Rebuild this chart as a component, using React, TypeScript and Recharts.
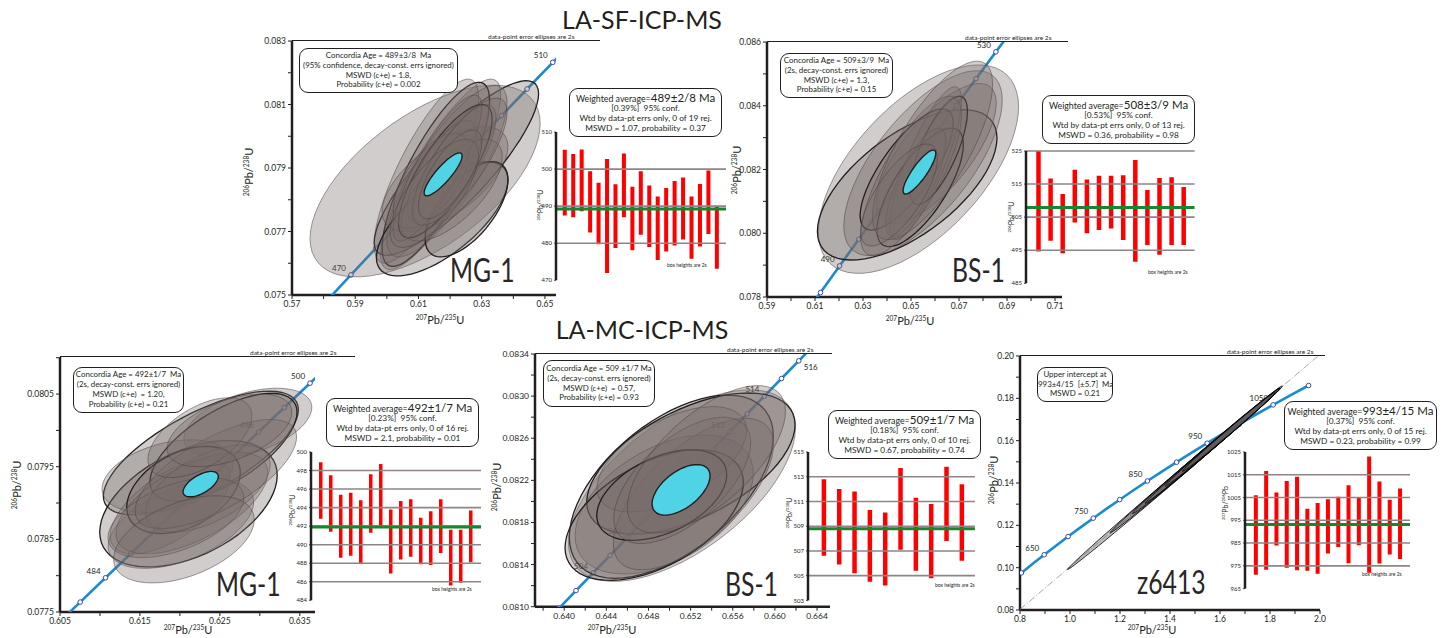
import React from 'react';
import { ScatterChart, Scatter, XAxis, YAxis, BarChart, Bar, ReferenceLine } from 'recharts';

const FONT = "Lato, 'Open Sans', 'DejaVu Sans', sans-serif";
const INK = '#231f20';
const L238 = 1.55125e-10;
const L235 = 9.8485e-10;

// concordia ages (Ma): curve nodes, open-circle markers, labelled markers
const mgSfCurve = [460, 465, 470, 475, 480, 485, 490, 495, 500, 505, 510, 515, 520];
const mgSfMarks = [465, 470, 475, 480, 485, 490, 495, 500, 505, 510, 515];
const mgSfLabels = [470, 510];

const bsSfCurve = [475, 480, 485, 490, 495, 500, 505, 510, 515, 520, 525, 530, 535, 540];
const bsSfMarks = [485, 490, 495, 500, 505, 510, 515, 520, 525, 530];
const bsSfLabels = [490, 530];

const mgMcCurve = [478, 480, 482, 484, 486, 488, 490, 492, 494, 496, 498, 500, 502, 504, 506];
const mgMcMarks = [480, 482, 484, 486, 488, 490, 492, 494, 496, 498, 500, 502, 504];
const mgMcLabels = [484, 488, 496, 500];

const bsMcCurve = [500, 501, 502, 503, 504, 505, 506, 507, 508, 509, 510, 511, 512, 513, 514, 515, 516, 517, 518, 519];
const bsMcMarks = [502, 503, 504, 505, 506, 507, 508, 509, 510, 511, 512, 513, 514, 515, 516, 517];
const bsMcLabels = [504, 506, 510, 512, 514];
const bsMcLabelsRight = [516];

const zCurve = [600, 625, 650, 675, 700, 725, 750, 775, 800, 825, 850, 875, 900, 925, 950, 975, 1000, 1025, 1050, 1075, 1100];
const zMarks = [600, 650, 700, 750, 800, 850, 900, 950, 1000, 1050, 1100];
const zLabels = [650, 750, 850, 950, 1050];
const zUpperAge = 993;
const zDiscordiaX = [0.8, 2.0];

// error ellipses: 207/235 (x), 206/238 (y), 2s half-widths, error correlation
const mgSfEllipses = [
  { x: 0.6121, y: 0.07859, sx: 0.0364, sy: 0.00302, rho: 0.6 },
  { x: 0.622, y: 0.079, sx: 0.026, sy: 0.00275, rho: 0.85 },
  { x: 0.617, y: 0.0788, sx: 0.019, sy: 0.003, rho: 0.84 },
  { x: 0.6155, y: 0.0788, sx: 0.017, sy: 0.0029, rho: 0.8 },
  { x: 0.6125, y: 0.0789, sx: 0.0165, sy: 0.0029, rho: 0.8 },
  { x: 0.619, y: 0.0789, sx: 0.019, sy: 0.0027, rho: 0.8 },
  { x: 0.6175, y: 0.0774, sx: 0.0208, sy: 0.0018, rho: 0.68 },
  { x: 0.6184, y: 0.07865, sx: 0.0199, sy: 0.00165, rho: 0.62 },
  { x: 0.6252, y: 0.0777, sx: 0.0131, sy: 0.0015, rho: 0.62 },
  { x: 0.6185, y: 0.0789, sx: 0.0148, sy: 0.0021, rho: 0.78 },
  { x: 0.6175, y: 0.0789, sx: 0.011, sy: 0.0016, rho: 0.72 },
  { x: 0.6215, y: 0.0791, sx: 0.013, sy: 0.0019, rho: 0.78 },
  { x: 0.614, y: 0.0786, sx: 0.012, sy: 0.0015, rho: 0.62 },
  { x: 0.6205, y: 0.0783, sx: 0.016, sy: 0.0016, rho: 0.66 },
  { x: 0.616, y: 0.079, sx: 0.014, sy: 0.0023, rho: 0.84 },
  { x: 0.623, y: 0.0792, sx: 0.015, sy: 0.002, rho: 0.78 },
  { x: 0.615, y: 0.0782, sx: 0.014, sy: 0.0017, rho: 0.72 },
  { x: 0.62, y: 0.0788, sx: 0.01, sy: 0.0014, rho: 0.72 },
];
const mgSfMean = { x: 0.6178, y: 0.0788, sx: 0.006, sy: 0.000675, rho: 0.86 };

const bsSfEllipses = [
  { x: 0.6531, y: 0.08201, sx: 0.0417, sy: 0.00327, rho: 0.6 },
  { x: 0.6484, y: 0.08152, sx: 0.0374, sy: 0.00236, rho: 0.62 },
  { x: 0.655, y: 0.0822, sx: 0.033, sy: 0.0029, rho: 0.68 },
  { x: 0.6605, y: 0.0825, sx: 0.025, sy: 0.0022, rho: 0.72 },
  { x: 0.6482, y: 0.082, sx: 0.0194, sy: 0.0019, rho: 0.76 },
  { x: 0.6538, y: 0.08144, sx: 0.018, sy: 0.00186, rho: 0.72 },
  { x: 0.6615, y: 0.0826, sx: 0.012, sy: 0.0017, rho: 0.72 },
  { x: 0.656, y: 0.0822, sx: 0.015, sy: 0.0024, rho: 0.82 },
  { x: 0.652, y: 0.0816, sx: 0.0125, sy: 0.0017, rho: 0.76 },
  { x: 0.65, y: 0.0818, sx: 0.021, sy: 0.0025, rho: 0.76 },
  { x: 0.659, y: 0.0826, sx: 0.025, sy: 0.0028, rho: 0.74 },
  { x: 0.645, y: 0.0812, sx: 0.016, sy: 0.0016, rho: 0.72 },
];
const bsSfMean = { x: 0.6535, y: 0.08192, sx: 0.0068, sy: 0.00069, rho: 0.85 };

const mgMcEllipses = [
  { x: 0.62262, y: 0.07969, sx: 0.0122, sy: 0.00085, rho: 0.7 },
  { x: 0.62107, y: 0.07899, sx: 0.0111, sy: 0.00087, rho: 0.45 },
  { x: 0.6285, y: 0.0801, sx: 0.008, sy: 0.00048, rho: 0.45 },
  { x: 0.62012, y: 0.07871, sx: 0.0091, sy: 0.00061, rho: 0.5 },
  { x: 0.61846, y: 0.07937, sx: 0.0082, sy: 0.0005, rho: 0.35 },
  { x: 0.62545, y: 0.07977, sx: 0.0092, sy: 0.00074, rho: 0.65 },
  { x: 0.61877, y: 0.07895, sx: 0.0075, sy: 0.00065, rho: 0.62 },
  { x: 0.62045, y: 0.07918, sx: 0.0071, sy: 0.0006, rho: 0.4 },
  { x: 0.6215, y: 0.079, sx: 0.0095, sy: 0.0007, rho: 0.6 },
  { x: 0.6235, y: 0.0792, sx: 0.0078, sy: 0.0006, rho: 0.55 },
  { x: 0.6195, y: 0.0788, sx: 0.0085, sy: 0.00055, rho: 0.5 },
  { x: 0.6245, y: 0.0794, sx: 0.0101, sy: 0.00075, rho: 0.68 },
  { x: 0.6225, y: 0.0799, sx: 0.0065, sy: 0.00055, rho: 0.55 },
  { x: 0.6205, y: 0.0785, sx: 0.0088, sy: 0.0006, rho: 0.45 },
  { x: 0.6262, y: 0.08, sx: 0.0078, sy: 0.0005, rho: 0.5 },
];
const mgMcMean = { x: 0.6226, y: 0.07926, sx: 0.0022, sy: 0.000175, rho: 0.6 };

const bsMcEllipses = [
  { x: 0.65118, y: 0.08215, sx: 0.01077, sy: 0.00091, rho: 0.6 },
  { x: 0.65017, y: 0.08214, sx: 0.00968, sy: 0.00087, rho: 0.55 },
  { x: 0.65203, y: 0.08236, sx: 0.00989, sy: 0.00067, rho: 0.55 },
  { x: 0.64949, y: 0.08197, sx: 0.00846, sy: 0.00066, rho: 0.45 },
  { x: 0.64854, y: 0.08187, sx: 0.00846, sy: 0.00062, rho: 0.5 },
  { x: 0.65226, y: 0.08207, sx: 0.0076, sy: 0.00072, rho: 0.65 },
  { x: 0.65021, y: 0.0824, sx: 0.0071, sy: 0.0005, rho: 0.55 },
  { x: 0.64926, y: 0.08206, sx: 0.00617, sy: 0.00043, rho: 0.45 },
  { x: 0.6512, y: 0.0822, sx: 0.0065, sy: 0.0006, rho: 0.6 },
  { x: 0.6535, y: 0.0824, sx: 0.0075, sy: 0.0007, rho: 0.65 },
];
const bsMcMean = { x: 0.65109, y: 0.08211, sx: 0.00275, sy: 0.00024, rho: 0.55 };

const zEllipses = [
  { x: 1.415, y: 0.142, sx: 0.425, sy: 0.0429, rho: 0.999 },
  { x: 1.5, y: 0.1506, sx: 0.34, sy: 0.0342, rho: 0.9985 },
  { x: 1.55, y: 0.1557, sx: 0.3, sy: 0.0302, rho: 0.998 },
  { x: 1.56, y: 0.1566, sx: 0.26, sy: 0.0262, rho: 0.998 },
  { x: 1.6, y: 0.1606, sx: 0.22, sy: 0.0221, rho: 0.997 },
  { x: 1.645, y: 0.1652, sx: 0.195, sy: 0.0197, rho: 0.997 },
];

// weighted-average boxes: 2s low / high ages (Ma)
const mgSfLow = [487.5, 487.0, 488.6, 482.9, 479.7, 472.0, 478.7, 487.0, 478.1, 482.3, 479.0, 475.5, 477.8, 479.4, 481.0, 475.8, 479.1, 482.5, 473.1];
const mgSfHigh = [505.2, 504.1, 505.3, 499.4, 496.3, 502.7, 495.9, 504.2, 495.2, 499.4, 495.6, 492.6, 494.9, 496.8, 497.7, 492.6, 496.0, 499.6, 490.1];
const bsSfLow = [494.6, 497.9, 494.1, 503.4, 500.1, 501.1, 501.6, 498.1, 491.5, 496.6, 493.6, 496.6, 496.6];
const bsSfHigh = [525.0, 516.7, 512.0, 519.3, 516.4, 517.5, 517.5, 517.7, 522.3, 513.2, 516.8, 517.1, 514.1];
const mgMcLow = [492.8, 491.4, 488.6, 488.8, 488.0, 491.3, 492.0, 486.9, 488.4, 488.7, 487.9, 487.8, 489.1, 485.6, 485.9, 488.1];
const mgMcHigh = [498.9, 497.5, 495.4, 495.6, 494.8, 497.6, 498.7, 493.8, 494.7, 494.9, 492.9, 493.6, 494.9, 491.6, 491.6, 493.7];
const bsMcLow = [506.6, 505.9, 505.2, 504.5, 504.2, 507.1, 505.4, 504.8, 507.8, 506.2];
const bsMcHigh = [512.8, 512.0, 511.8, 510.3, 510.1, 513.7, 511.3, 510.8, 513.8, 512.4];
const zLow = [971.1, 973.3, 983.9, 974.2, 973.1, 972.8, 971.5, 980.4, 983.3, 976.1, 984.0, 972.0, 976.0, 980.0, 978.0];
const zHigh = [1006.0, 1016.7, 1007.2, 1012.3, 1014.1, 1000.1, 1002.6, 1004.2, 1005.3, 1010.4, 1005.0, 1023.0, 1012.0, 1004.0, 1009.0];

type Ell = { x: number; y: number; sx: number; sy: number; rho: number };

const concordia = (age: number) => ({
  x: Math.exp(L235 * age * 1e6) - 1,
  y: Math.exp(L238 * age * 1e6) - 1,
});

function ellipsePts(e: Ell, n = 64) {
  const k = Math.sqrt(1 - e.rho * e.rho);
  const out = [];
  for (let i = 0; i <= n; i++) {
    const t = (i / n) * Math.PI * 2;
    out.push({ x: e.x + e.sx * Math.cos(t), y: e.y + e.sy * (e.rho * Math.cos(t) + k * Math.sin(t)) });
  }
  return out;
}

const pathOf = (pts: any[], close: boolean) =>
  pts.map((p, i) => (i ? 'L' : 'M') + p.x.toFixed(1) + ',' + p.y.toFixed(1)).join(' ') + (close ? ' Z' : '');

const shapeLine = (style: any, close: boolean) => (props: any) =>
  props.points ? <path d={pathOf(props.points, close)} {...style} /> : <g />;

const noDot = () => <g />;

const markerShape = (labels: number[], labelsRight: number[]) => (p: any) => {
  const age = p.payload.age;
  const left = labels.includes(age);
  const right = labelsRight.includes(age);
  return (
    <g>
      <circle cx={p.cx} cy={p.cy} r={2.3} fill="#fff" stroke="#3a4ba6" strokeWidth={1} />
      {(left || right) && (
        <text
          x={left ? p.cx - 5 : p.cx + 5}
          y={left ? p.cy - 4 : p.cy + 9}
          textAnchor={left ? 'end' : 'start'}
          fontSize={8}
          fill={INK}
          fontFamily={FONT}
        >
          {age}
        </text>
      )}
    </g>
  );
};

const near = (list: number[], v: number) => list.some((m) => Math.abs(m - v) < 1e-9);

function ConcordiaPanel({ c }: { c: any }) {
  const { left, top, right, bottom } = c.plot;
  const xTicks = [...c.xMajor, ...c.xMinor].sort((a, b) => a - b);
  const yTicks = [...c.yMajor, ...c.yMinor].sort((a, b) => a - b);
  const axisStyle = { stroke: INK, strokeWidth: 2.5 };
  const tick = { fontSize: 8.5, fill: INK, fontFamily: FONT };
  const curve = c.curve.map((a: number) => ({ ...concordia(a), age: a }));
  const marks = c.marks.map((a: number) => ({ ...concordia(a), age: a }));
  const ellFill = c.dark
    ? { fill: '#5a5254', fillOpacity: 0.38 }
    : { fill: '#786c69', fillOpacity: 0.34 };
  return (
    <div style={{ position: 'absolute', left: left - 60, top: top - 10 }}>
      <ScatterChart
        width={right - left + 72}
        height={bottom - top + 34}
        margin={{ top: 10, right: 12, bottom: 0, left: 0 }}
      >
        <XAxis
          type="number"
          dataKey="x"
          domain={c.xDomain}
          ticks={xTicks}
          interval={0}
          allowDataOverflow
          height={24}
          axisLine={axisStyle}
          tickLine={{ stroke: INK }}
          tickSize={4}
          tick={tick}
          tickFormatter={(v: number) => (near(c.xMajor, v) ? v.toFixed(c.xDec) : '')}
        />
        <YAxis
          type="number"
          dataKey="y"
          domain={c.yDomain}
          ticks={yTicks}
          interval={0}
          allowDataOverflow
          width={60}
          axisLine={axisStyle}
          tickLine={{ stroke: INK }}
          tickSize={4}
          tick={tick}
          tickFormatter={(v: number) => (near(c.yMajor, v) ? v.toFixed(c.yDec) : '')}
        />
        {c.discordia && (
          <Scatter
            data={c.discordia}
            shape={noDot}
            line={shapeLine({ fill: 'none', stroke: '#9a9190', strokeWidth: 0.8, strokeDasharray: '7 2 1 2' }, false)}
            isAnimationActive={false}
          />
        )}
        <Scatter
          data={curve}
          shape={noDot}
          line={shapeLine({ fill: 'none', stroke: '#1b8bd0', strokeWidth: 2.6 }, false)}
          isAnimationActive={false}
        />
        <Scatter data={marks} shape={markerShape(c.labels, c.labelsRight || [])} isAnimationActive={false} />
        {c.ellipses.map((e: Ell, i: number) => {
          const bold = c.bold.includes(i);
          const stroke = c.dark
            ? { stroke: '#000', strokeWidth: 0.8 }
            : bold
            ? { stroke: INK, strokeWidth: 1.3 }
            : { stroke: '#4a4242', strokeWidth: 0.7, strokeOpacity: 0.75 };
          return (
            <Scatter
              key={i}
              data={ellipsePts(e)}
              shape={noDot}
              line={shapeLine({ ...ellFill, ...stroke }, true)}
              isAnimationActive={false}
            />
          );
        })}
        {c.mean && (
          <Scatter
            data={ellipsePts(c.mean)}
            shape={noDot}
            line={shapeLine({ fill: '#4fd3e5', stroke: INK, strokeWidth: 1.4 }, true)}
            isAnimationActive={false}
          />
        )}
      </ScatterChart>
    </div>
  );
}

function Inset({ c }: { c: any }) {
  const rows = c.low.map((lo: number, i: number) => ({ i, r: [lo, c.high[i]] }));
  const padL = c.first - c.axisX - c.step / 2;
  const plotW = padL + rows.length * c.step + 5;
  const yW = 28;
  return (
    <div style={{ position: 'absolute', left: c.axisX - yW, top: c.top - 5 }}>
      <BarChart
        width={yW + plotW}
        height={c.bottom - c.top + 10}
        data={rows}
        margin={{ top: 5, right: 0, bottom: 5, left: 0 }}
        barCategoryGap={0}
      >
        <XAxis dataKey="i" hide padding={{ left: padL, right: 5 }} />
        <YAxis
          type="number"
          domain={c.domain}
          ticks={c.ticks}
          interval={0}
          width={yW}
          allowDataOverflow
          axisLine={{ stroke: INK, strokeWidth: 2.5 }}
          tickLine={{ stroke: INK, strokeWidth: 0.8 }}
          tickSize={2}
          tickMargin={2}
          tick={{ fontSize: 6, fill: INK, fontFamily: FONT }}
        />
        {c.grid.map((g: number) => (
          <ReferenceLine key={g} y={g} stroke="#8e8584" strokeWidth={1.6} />
        ))}
        <ReferenceLine y={c.mean} stroke="#16862f" strokeWidth={3} />
        <Bar dataKey="r" fill="#ff0000" barSize={c.barW} isAnimationActive={false} />
      </BarChart>
    </div>
  );
}

const Iso = ({ a, e1, b, e2, fs }: any) => {
  const s: React.CSSProperties = { fontSize: fs * 0.6, position: 'relative', top: -fs * 0.4 };
  return (
    <span style={{ fontSize: fs }}>
      <span style={s}>{a}</span>
      {e1}/<span style={s}>{b}</span>
      {e2}
    </span>
  );
};

const VLabel = ({ x, y, children }: any) => (
  <div
    style={{
      position: 'absolute', left: x, top: y, whiteSpace: 'nowrap', lineHeight: 1,
      transform: 'translate(-50%,-50%) rotate(-90deg)',
    }}
  >
    {children}
  </div>
);

const HLabel = ({ x, y, lh = 1, children }: any) => (
  <div style={{ position: 'absolute', left: x, top: y, whiteSpace: 'nowrap', lineHeight: lh, transform: 'translate(-50%,-50%)' }}>
    {children}
  </div>
);

const TextBox = ({ left, top, width, height, fs = 7.9, children }: any) => (
  <div
    style={{
      position: 'absolute', left, top, width, height, boxSizing: 'border-box',
      border: `1.2px solid ${INK}`, borderRadius: 9, background: '#fff', fontSize: fs,
      lineHeight: 1.26, textAlign: 'center', display: 'flex', flexDirection: 'column',
      justifyContent: 'center', whiteSpace: 'nowrap',
    }}
  >
    {children}
  </div>
);

const WtdBox = ({ left, top, value, pct, n, mswd, prob }: any) => (
  <TextBox left={left} top={top} width={153} height={49} fs={8.3}>
    <div style={{ lineHeight: 1.1 }}>
      <span style={{ fontSize: 8.8 }}>Weighted average=</span>
      <span style={{ fontSize: 11.5 }}>{value} Ma</span>
    </div>
    <div style={{ lineHeight: 1.18 }}>[{pct}]&nbsp;&nbsp;95% conf.</div>
    <div style={{ lineHeight: 1.18 }}>Wtd by data-pt errs only, 0 of {n} rej.</div>
    <div style={{ lineHeight: 1.18 }}>MSWD = {mswd}, probability = {prob}</div>
  </TextBox>
);

const Frame = ({ left, top, end, textX }: any) => (
  <>
    <div style={{ position: 'absolute', left, top: top - 0.6, width: end - left, borderTop: `1.2px solid ${INK}` }} />
    <div style={{ position: 'absolute', left: textX, top: top - 8, fontSize: 6.5, lineHeight: '7px', whiteSpace: 'nowrap' }}>
      data-point error ellipses are 2s
    </div>
  </>
);

const Sample = ({ left, capTop, children }: any) => (
  <div
    style={{
      position: 'absolute', left, top: capTop - 5.5, fontSize: 33, lineHeight: '33px',
      transform: 'scaleX(0.75)', transformOrigin: 'left top', whiteSpace: 'nowrap', color: '#2a2627',
    }}
  >
    {children}
  </div>
);

const BoxNote = ({ left, top }: any) => (
  <div style={{ position: 'absolute', left, top, fontSize: 5, lineHeight: 1, whiteSpace: 'nowrap' }}>box heights are 2s</div>
);

const panels = [
  {
    plot: { left: 292, top: 41, right: 556, bottom: 295 },
    xDomain: [0.57, 0.6535], xMajor: [0.57, 0.59, 0.61, 0.63, 0.65], xMinor: [0.58, 0.6, 0.62, 0.64], xDec: 2,
    yDomain: [0.075, 0.083], yMajor: [0.075, 0.077, 0.079, 0.081, 0.083], yMinor: [0.076, 0.078, 0.08, 0.082], yDec: 3,
    curve: mgSfCurve, marks: mgSfMarks, labels: mgSfLabels,
    ellipses: mgSfEllipses, mean: mgSfMean, bold: [1, 3, 6, 8, 9],
  },
  {
    plot: { left: 767, top: 42, right: 1062, bottom: 297 },
    xDomain: [0.59, 0.7129], xMajor: [0.59, 0.61, 0.63, 0.65, 0.67, 0.69, 0.71],
    xMinor: [0.6, 0.62, 0.64, 0.66, 0.68, 0.7], xDec: 2,
    yDomain: [0.078, 0.086], yMajor: [0.078, 0.08, 0.082, 0.084, 0.086], yMinor: [0.079, 0.081, 0.083, 0.085], yDec: 3,
    curve: bsSfCurve, marks: bsSfMarks, labels: bsSfLabels,
    ellipses: bsSfEllipses, mean: bsSfMean, bold: [1, 4, 5, 6],
  },
  {
    plot: { left: 60, top: 357, right: 315, bottom: 612 },
    xDomain: [0.605, 0.6369], xMajor: [0.605, 0.615, 0.625, 0.635], xMinor: [0.61, 0.62, 0.63], xDec: 3,
    yDomain: [0.0775, 0.08101], yMajor: [0.0775, 0.0785, 0.0795, 0.0805], yMinor: [0.078, 0.079, 0.08, 0.081], yDec: 4,
    curve: mgMcCurve, marks: mgMcMarks, labels: mgMcLabels,
    ellipses: mgMcEllipses, mean: mgMcMean, bold: [0, 1, 5, 7],
  },
  {
    plot: { left: 535, top: 354, right: 830, bottom: 606.7 },
    xDomain: [0.63723, 0.66523], xMajor: [0.64, 0.644, 0.648, 0.652, 0.656, 0.66, 0.664],
    xMinor: [0.638, 0.642, 0.646, 0.65, 0.654, 0.658, 0.662], xDec: 3,
    yDomain: [0.081, 0.0834], yMajor: [0.081, 0.0814, 0.0818, 0.0822, 0.0826, 0.083, 0.0834],
    yMinor: [0.0812, 0.0816, 0.082, 0.0824, 0.0828, 0.0832], yDec: 4,
    curve: bsMcCurve, marks: bsMcMarks, labels: bsMcLabels, labelsRight: bsMcLabelsRight,
    ellipses: bsMcEllipses, mean: bsMcMean, bold: [1, 2, 4, 7],
  },
  {
    plot: { left: 1020, top: 356, right: 1320, bottom: 610 },
    xDomain: [0.8, 2.0], xMajor: [0.8, 1.0, 1.2, 1.4, 1.6, 1.8, 2.0], xMinor: [0.9, 1.1, 1.3, 1.5, 1.7, 1.9], xDec: 1,
    yDomain: [0.08, 0.2], yMajor: [0.08, 0.1, 0.12, 0.14, 0.16, 0.18, 0.2], yMinor: [0.09, 0.11, 0.13, 0.15, 0.17, 0.19], yDec: 2,
    curve: zCurve, marks: zMarks, labels: zLabels,
    ellipses: zEllipses, mean: null, bold: [], dark: true,
    discordia: zDiscordiaX.map((x) => {
      const u = concordia(zUpperAge);
      return { x, y: (x * u.y) / u.x };
    }),
  },
];

const insets = [
  { axisX: 556, top: 131.7, bottom: 280, first: 565, step: 8.45, domain: [470, 510], ticks: [470, 480, 490, 500, 510], grid: [480, 490, 500], mean: 489.2, barW: 4, low: mgSfLow, high: mgSfHigh },
  { axisX: 1026, top: 151, bottom: 283.3, first: 1038.3, step: 12.1, domain: [485, 525], ticks: [485, 495, 505, 515, 525], grid: [495, 505, 515, 525], mean: 507.9, barW: 4.5, low: bsSfLow, high: bsSfHigh },
  { axisX: 311, top: 451.7, bottom: 600, first: 321, step: 10, domain: [484, 500], ticks: [484, 486, 488, 490, 492, 494, 496, 498, 500], grid: [486, 488, 490, 492, 494, 496, 498], mean: 491.9, barW: 3.5, low: mgMcLow, high: mgMcHigh },
  { axisX: 807.7, top: 452.3, bottom: 600.7, first: 824, step: 15.33, domain: [503, 515], ticks: [503, 505, 507, 509, 511, 513, 515], grid: [505, 507, 509, 511, 513], mean: 508.8, barW: 4.5, low: bsMcLow, high: bsMcHigh },
  { axisX: 1245, top: 451.7, bottom: 588.3, first: 1256, step: 10.3, domain: [965, 1025], ticks: [965, 975, 985, 995, 1005, 1015, 1025], grid: [975, 985, 995, 1005, 1015], mean: 993.2, barW: 4, low: zLow, high: zHigh },
];

const U68 = (fs: number) => <Iso a="206" e1="Pb" b="238" e2="U" fs={fs} />;
const U75 = (fs: number) => <Iso a="207" e1="Pb" b="235" e2="U" fs={fs} />;
const Pb76 = (fs: number) => <Iso a="207" e1="Pb" b="206" e2="Pb" fs={fs} />;

export default function App() {
  return (
    <div
      style={{
        position: 'absolute', left: 0, top: 0, width: 1447, height: 638, overflow: 'hidden',
        background: '#fff', fontFamily: FONT, color: INK,
      }}
    >
      <HLabel x={642} y={21} lh="19px"><span style={{ fontSize: 25 }}>LA-SF-ICP-MS</span></HLabel>
      <HLabel x={642} y={331} lh="19px"><span style={{ fontSize: 25 }}>LA-MC-ICP-MS</span></HLabel>

      {panels.map((c, i) => (
        <ConcordiaPanel key={i} c={c} />
      ))}

      <Frame left={292} top={41} end={600} textX={488} />
      <Frame left={767} top={42} end={1068} textX={965} />
      <Frame left={60} top={357} end={355} textX={250} />
      <Frame left={535} top={354} end={832} textX={727} />
      <Frame left={1020} top={356} end={1325} textX={1227} />

      <VLabel x={247} y={172}>{U68(11)}</VLabel>
      <VLabel x={735} y={170}>{U68(11)}</VLabel>
      <VLabel x={15} y={485}>{U68(11)}</VLabel>
      <VLabel x={495} y={487}>{U68(11)}</VLabel>
      <VLabel x={992} y={480}>{U68(11)}</VLabel>
      <HLabel x={440} y={318}>{U75(11)}</HLabel>
      <HLabel x={910} y={319}>{U75(11)}</HLabel>
      <HLabel x={188} y={628}>{U75(11)}</HLabel>
      <HLabel x={612} y={628}>{U75(11)}</HLabel>
      <HLabel x={1152} y={628}>{U75(11)}</HLabel>

      <Sample left={450} capTop={258}>MG-1</Sample>
      <Sample left={952} capTop={258}>BS-1</Sample>
      <Sample left={216} capTop={572}>MG-1</Sample>
      <Sample left={725} capTop={572}>BS-1</Sample>
      <Sample left={1137} capTop={570}>z6413</Sample>

      <TextBox left={299} top={48} width={159} height={45}>
        <div>Concordia Age = 489±3/8&nbsp;&nbsp;Ma</div>
        <div>(95% confidence, decay-const. errs ignored)</div>
        <div>MSWD (c+e) = 1.8,</div>
        <div>Probability (c+e) = 0.002</div>
      </TextBox>
      <TextBox left={780} top={53} width={113} height={45}>
        <div>Concordia Age = 509±3/9&nbsp;&nbsp;Ma</div>
        <div>(2s, decay-const. errs ignored)</div>
        <div>MSWD (c+e) = 1.3,</div>
        <div>Probability (c+e) = 0.15</div>
      </TextBox>
      <TextBox left={73} top={367} width={111} height={46}>
        <div>Concordia Age = 492±1/7&nbsp;&nbsp;Ma</div>
        <div>(2s, decay-const. errs ignored)</div>
        <div>MSWD (c+e)&nbsp;&nbsp;= 1.20,</div>
        <div>Probability (c+e) = 0.21</div>
      </TextBox>
      <TextBox left={543} top={360} width={112} height={47}>
        <div>Concordia Age = 509 ±1/7 Ma</div>
        <div>(2s, decay-const. errs ignored)</div>
        <div>MSWD (c+e)&nbsp;&nbsp;= 0.57,</div>
        <div>Probability (c+e) = 0.93</div>
      </TextBox>
      <TextBox left={1037} top={367} width={76} height={35}>
        <div>Upper intercept at</div>
        <div>993±4/15&nbsp;&nbsp;[±5.7]&nbsp;&nbsp;Ma</div>
        <div>MSWD = 0.21</div>
      </TextBox>

      {insets.map((c, i) => (
        <Inset key={i} c={c} />
      ))}

      <VLabel x={537} y={205}>{U68(7)}</VLabel>
      <VLabel x={1008} y={217}>{U68(7)}</VLabel>
      <VLabel x={289} y={510}>{U68(7)}</VLabel>
      <VLabel x={786} y={513}>{U68(7)}</VLabel>
      <VLabel x={1222} y={503}>{Pb76(7)}</VLabel>

      <BoxNote left={667} top={263} />
      <BoxNote left={1148} top={270} />
      <BoxNote left={432} top={587} />
      <BoxNote left={935} top={583} />
      <BoxNote left={1362} top={572} />

      <WtdBox left={569} top={88} value="489±2/8" pct="0.39%" n={19} mswd="1.07" prob="0.37" />
      <WtdBox left={1042} top={95} value="508±3/9" pct="0.53%" n={13} mswd="0.36" prob="0.98" />
      <WtdBox left={326} top={398} value="492±1/7" pct="0.23%" n={16} mswd="2.1" prob="0.01" />
      <WtdBox left={828} top={410} value="509±1/7" pct="0.18%" n={10} mswd="0.67" prob="0.74" />
      <WtdBox left={1284} top={401} value="993±4/15" pct="0.37%" n={15} mswd="0.23" prob="0.99" />
    </div>
  );
}
